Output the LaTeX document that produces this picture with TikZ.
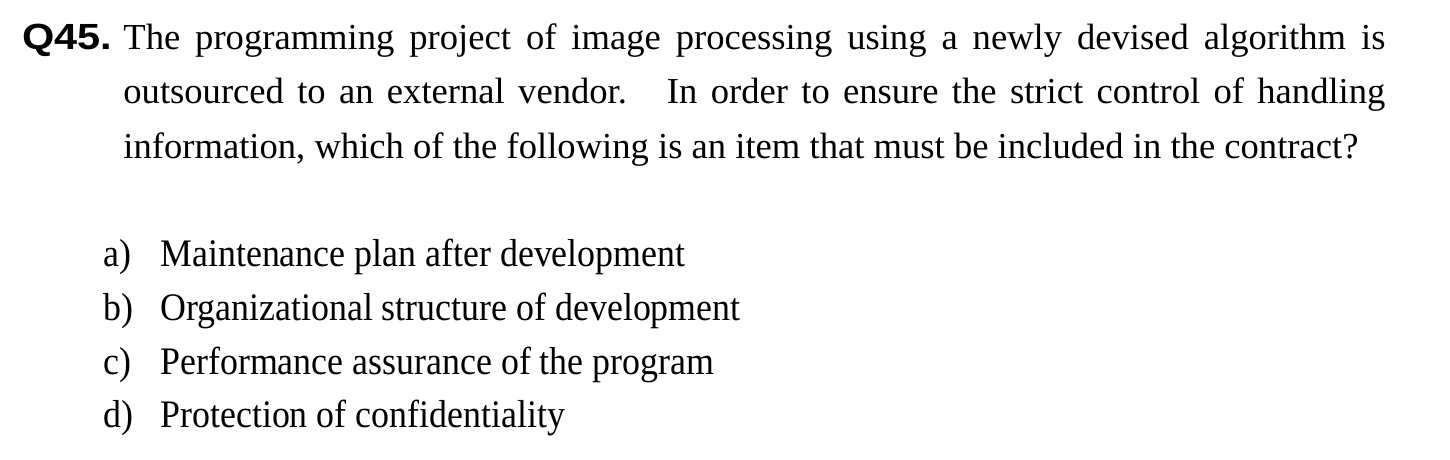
\documentclass[tikz,border=0pt]{standalone}
\usepackage{fontspec}
\setmainfont{Liberation Serif}
\newfontfamily\qfont{Liberation Sans}
\usepackage{tikz}
\usetikzlibrary{positioning}

\tikzset{
  txt/.style={anchor=base west, inner sep=0pt, font=\fontsize{18.3}{22}\selectfont},
  opt/.style={anchor=base west, inner sep=0pt, font=\fontsize{19.5}{22}\selectfont},
  qlabel/.style={anchor=base west, inner sep=0pt, font=\qfont\bfseries\fontsize{18.2}{22}\selectfont}
}

\begin{document}
\begin{tikzpicture}[x=0.5pt, y=-0.5pt]
    % Canvas
    \useasboundingbox (0,0) rectangle (1450,460);

    % Question number and stem
    \node[qlabel] (qnum) at (22,50) {\scalebox{1.14}[1]{Q45.}};
    \node[txt] (stem1) at (123,50) {\hbox to 631pt{The programming project of image processing using a newly devised algorithm is}};
    \node[txt] (stem2) at (123,104) {\hbox to 631pt{outsourced to an external vendor.\ \ \ In order to ensure the strict control of handling}};
    \node[txt] (stem3) at (123,158) {information, which of the following is an item that must be included in the contract?};

    % Answer choices
    \foreach \k/\y/\t in {a/266/Maintenance plan after development, b/320/Organizational structure of development, c/374/Performance assurance of the program, d/427/Protection of confidentiality} {
      \node[opt] (lab\k) at (103,\y) {\scalebox{0.92}[1]{\k)}};
      \node[opt] (opt\k) at (160,\y) {\scalebox{0.92}[1]{\t}};
    }
\end{tikzpicture}
\end{document}
